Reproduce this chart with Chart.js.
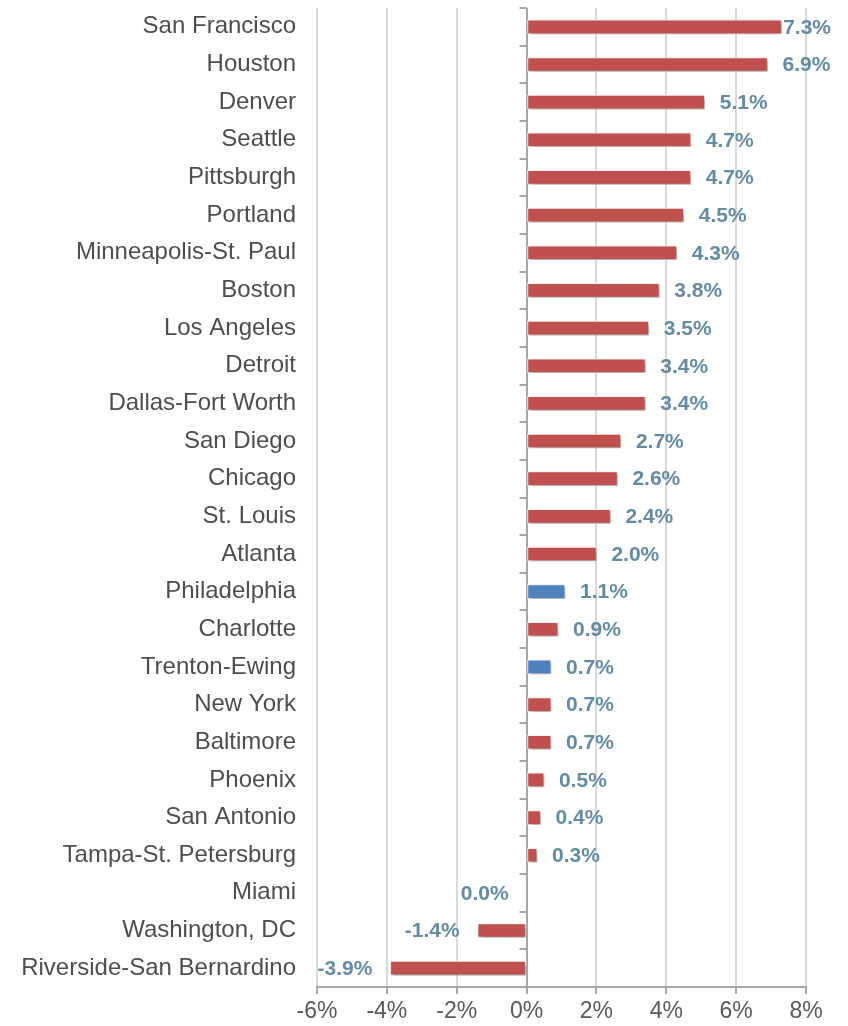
<!DOCTYPE html>
<html>
<head>
<meta charset="utf-8">
<script src="https://cdn.jsdelivr.net/npm/chart.js@4.4.0/dist/chart.umd.min.js"></script>
<style>
  html,body{margin:0;padding:0;background:#fff;}
  #wrap{width:848px;height:1026px;position:relative;}
</style>
</head>
<body>
<div id="wrap"><canvas id="miGrafico"></canvas></div>
<script>
const ciudades=['San Francisco','Houston','Denver','Seattle','Pittsburgh','Portland','Minneapolis-St. Paul','Boston','Los Angeles','Detroit','Dallas-Fort Worth','San Diego','Chicago','St. Louis','Atlanta','Philadelphia','Charlotte','Trenton-Ewing','New York','Baltimore','Phoenix','San Antonio','Tampa-St. Petersburg','Miami','Washington, DC','Riverside-San Bernardino'];
const cambio=[7.3,6.9,5.1,4.7,4.7,4.5,4.3,3.8,3.5,3.4,3.4,2.7,2.6,2.4,2.0,1.1,0.9,0.7,0.7,0.7,0.5,0.4,0.3,0.0,-1.4,-3.9];
const resaltadas=['Philadelphia','Trenton-Ewing'];
const ejeX=[-6,-4,-2,0,2,4,6,8];

const ROJO='#C0504D', AZUL='#4F81BD';
const colores=ciudades.map(c=>resaltadas.includes(c)?AZUL:ROJO);
const FUENTE='"Liberation Sans", Arial, sans-serif';

// sombra de las barras
const sombra={
  id:'sombra',
  beforeDatasetDraw(chart){
    const ctx=chart.ctx;
    ctx.save();
    ctx.shadowColor='rgba(0,0,0,0.4)';
    ctx.shadowBlur=4;
    ctx.shadowOffsetX=2;
    ctx.shadowOffsetY=2;
  },
  afterDatasetDraw(chart){ chart.ctx.restore(); }
};

// marcas del eje vertical (en el 0) y etiquetas de datos
const extras={
  id:'extras',
  afterDatasetsDraw(chart){
    const ctx=chart.ctx;
    const x=chart.scales.x, y=chart.scales.y;
    const x0=x.getPixelForValue(0);
    ctx.save();
    ctx.strokeStyle='#A6A6A6';
    ctx.lineWidth=2;
    const paso=(y.getPixelForValue(1)-y.getPixelForValue(0));
    for(let i=0;i<=ciudades.length;i++){
      const py=Math.round(y.getPixelForValue(i)-paso/2);
      ctx.beginPath();
      ctx.moveTo(x0-7,py);
      ctx.lineTo(x0,py);
      ctx.stroke();
    }
    // etiquetas
    ctx.font='bold 21px '+FUENTE;
    ctx.fillStyle='#658BA0';
    ctx.textBaseline='middle';
    const meta=chart.getDatasetMeta(0);
    meta.data.forEach((bar,i)=>{
      const v=cambio[i];
      const txt=v.toFixed(1)+'%';
      const w=ctx.measureText(txt).width;
      let tx;
      if(v>0){
        tx=bar.x+15;
        if(tx+w>chart.width-17) tx=chart.width-17-w;
      }else{
        tx=Math.min(bar.x,x0)-18-w;
      }
      ctx.textAlign='left';
      ctx.fillText(txt,tx,bar.y+1);
    });
    ctx.restore();
  }
};

const ctx=document.getElementById('miGrafico').getContext('2d');
const miGrafico=new Chart(ctx,{
  type:'bar',
  data:{
    labels:ciudades,
    datasets:[{
      data:cambio,
      backgroundColor:colores,
      borderColor:'#FFFFFF',
      borderWidth:1,
      borderSkipped:false,
      barThickness:14
    }]
  },
  options:{
    indexAxis:'y',
    responsive:true,
    maintainAspectRatio:false,
    animation:false,
    layout:{padding:{top:8,right:42,left:0,bottom:0}},
    plugins:{legend:{display:false},tooltip:{enabled:false}},
    scales:{
      x:{
        min:-6,max:8,
        afterBuildTicks(s){ s.ticks=ejeX.map(v=>({value:v})); },
        afterFit(s){ s.height=39; },
        grid:{
          color:c=>c.tick && c.tick.value===0 ? '#A6A6A6' : '#D9D9D9',
          lineWidth:2,
          tickLength:7,
          tickColor:'#A6A6A6'
        },
        border:{color:'#A6A6A6',width:2},
        ticks:{
          color:'#595959',
          padding:4,
          font:{size:23,family:FUENTE},
          callback:v=>v+'%'
        }
      },
      y:{
        afterFit(s){ s.width=317; s.paddingTop=0; s.paddingBottom=0; },
        grid:{display:false,drawTicks:false},
        border:{display:false},
        ticks:{
          color:'#4D4D4D',
          padding:21,
          autoSkip:false,
          font:{size:24,family:FUENTE}
        }
      }
    }
  },
  plugins:[sombra,extras]
});
</script>
</body>
</html>
